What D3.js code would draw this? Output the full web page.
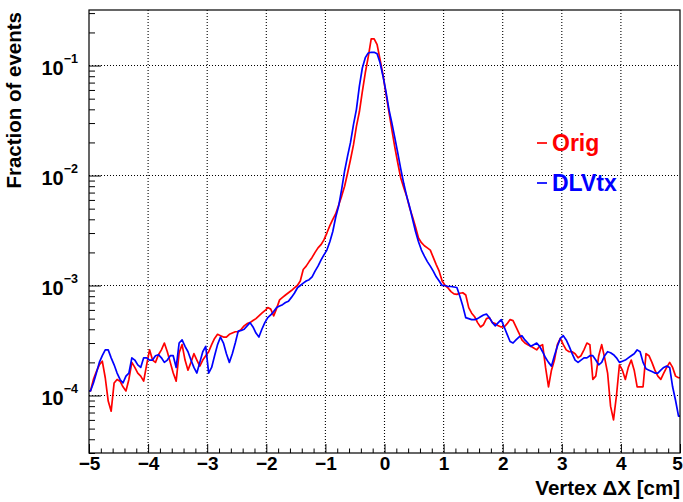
<!DOCTYPE html>
<html>
<head>
<meta charset="utf-8">
<script src="https://cdn.jsdelivr.net/npm/d3@7"></script>
<style>
  body { margin: 0; background: #fff; }
  svg text { font-family: "Liberation Sans", Arial, Helvetica, sans-serif; font-weight: bold; }
</style>
</head>
<body>
<div id="chart"></div>
<script>
// histogram binning: 200 bins on [-5, 5]
const xMin = -5, xMax = 5, nBins = 200;

// Orig (red), bin contents, 10 bins per row
const orig = [
  1.1e-4, 1.4e-4, 1.65e-4, 1.9e-4, 2.05e-4, 1.45e-4, 8.9e-5, 7.2e-5, 1.3e-4, 1.4e-4,
  1.35e-4, 1.2e-4, 1.1e-4, 1.4e-4, 2.0e-4, 1.8e-4, 1.6e-4, 1.5e-4, 1.35e-4, 1.9e-4,
  2.6e-4, 2.1e-4, 2.0e-4, 2.35e-4, 2.6e-4, 3.0e-4, 2.5e-4, 2.0e-4, 1.6e-4, 1.35e-4,
  2.45e-4, 2.9e-4, 2.1e-4, 1.7e-4, 2.0e-4, 2.4e-4, 2.1e-4, 1.85e-4, 2.1e-4, 2.3e-4,
  2.5e-4, 2.9e-4, 3.3e-4, 3.6e-4, 3.5e-4, 3.4e-4, 3.4e-4, 3.6e-4, 3.7e-4, 3.8e-4,
  3.8e-4, 4.0e-4, 4.3e-4, 4.5e-4, 4.6e-4, 4.8e-4, 5.0e-4, 5.3e-4, 5.6e-4, 5.9e-4,
  6.3e-4, 6.1e-4, 5.3e-4, 6.2e-4, 7.4e-4, 7.8e-4, 8.2e-4, 8.6e-4, 9.0e-4, 9.5e-4,
  1.0e-3, 1.1e-3, 1.4e-3, 1.5e-3, 1.65e-3, 1.8e-3, 2.0e-3, 2.2e-3, 2.35e-3, 2.6e-3,
  3.0e-3, 3.5e-3, 4.0e-3, 4.5e-3, 5.4e-3, 6.5e-3, 8.0e-3, 1.05e-2, 1.4e-2, 1.9e-2,
  2.8e-2, 3.8e-2, 5.8e-2, 8.6e-2, 0.12, 0.175, 0.175, 0.155, 0.113, 0.082,
  0.055, 0.038, 0.026, 0.018, 0.013, 9.5e-3, 7.8e-3, 6.5e-3, 5.1e-3, 4.2e-3,
  3.4e-3, 2.7e-3, 2.45e-3, 2.3e-3, 2.2e-3, 2.1e-3, 1.8e-3, 1.55e-3, 1.35e-3, 1.1e-3,
  1.0e-3, 9.5e-4, 8.8e-4, 8.4e-4, 8.3e-4, 8.5e-4, 8.6e-4, 8.2e-4, 6.3e-4, 5.6e-4,
  5.2e-4, 4.6e-4, 4.2e-4, 4.4e-4, 5.0e-4, 5.1e-4, 4.6e-4, 4.5e-4, 4.3e-4, 4.2e-4,
  4.2e-4, 4.5e-4, 4.9e-4, 4.8e-4, 4.2e-4, 3.7e-4, 3.2e-4, 3.0e-4, 2.9e-4, 2.8e-4,
  2.7e-4, 2.6e-4, 2.8e-4, 2.9e-4, 1.8e-4, 1.2e-4, 1.7e-4, 2.1e-4, 2.9e-4, 3.3e-4,
  2.9e-4, 2.6e-4, 2.5e-4, 2.5e-4, 2.4e-4, 2.2e-4, 2.3e-4, 2.6e-4, 3.0e-4, 2.9e-4,
  1.4e-4, 1.5e-4, 2.3e-4, 2.9e-4, 2.2e-4, 1.6e-4, 8e-5, 6e-5, 1.0e-4, 1.9e-4,
  1.7e-4, 1.4e-4, 1.8e-4, 2.1e-4, 1.7e-4, 1.2e-4, 1.2e-4, 1.2e-4, 2.4e-4, 2.3e-4,
  2.0e-4, 1.7e-4, 1.5e-4, 1.4e-4, 1.6e-4, 1.8e-4, 2.0e-4, 1.8e-4, 1.5e-4, 1.45e-4
];

// DLVtx (blue)
const dlvtx = [
  1.1e-4, 1.3e-4, 1.6e-4, 2.0e-4, 2.3e-4, 2.6e-4, 2.6e-4, 2.2e-4, 1.9e-4, 1.6e-4,
  1.4e-4, 1.3e-4, 1.5e-4, 1.6e-4, 2.2e-4, 2.1e-4, 1.9e-4, 1.8e-4, 2.2e-4, 2.2e-4,
  2.1e-4, 2.1e-4, 2.3e-4, 2.35e-4, 2.2e-4, 2.0e-4, 2.1e-4, 2.3e-4, 2.3e-4, 1.8e-4,
  3.0e-4, 3.2e-4, 2.8e-4, 2.5e-4, 2.1e-4, 1.8e-4, 1.6e-4, 2.0e-4, 2.5e-4, 2.8e-4,
  1.6e-4, 1.8e-4, 2.3e-4, 2.9e-4, 3.4e-4, 3.0e-4, 2.4e-4, 2.0e-4, 2.4e-4, 3.0e-4,
  3.85e-4, 3.9e-4, 4.0e-4, 4.3e-4, 4.6e-4, 4.2e-4, 3.7e-4, 3.4e-4, 4.0e-4, 4.6e-4,
  5.1e-4, 5.4e-4, 5.8e-4, 6.3e-4, 6.5e-4, 6.7e-4, 7.0e-4, 7.2e-4, 7.8e-4, 8.5e-4,
  9.5e-4, 1.0e-3, 1.05e-3, 1.1e-3, 1.13e-3, 1.2e-3, 1.35e-3, 1.5e-3, 1.7e-3, 1.9e-3,
  2.1e-3, 2.5e-3, 3.1e-3, 4.2e-3, 5.3e-3, 7.5e-3, 1.1e-2, 1.5e-2, 2.0e-2, 2.9e-2,
  4.0e-2, 6.5e-2, 9.5e-2, 0.118, 0.13, 0.132, 0.132, 0.128, 0.106, 0.08,
  0.058, 0.04, 0.03, 0.022, 0.016, 0.0115, 0.0085, 0.0065, 0.0052, 0.004,
  3.1e-3, 2.5e-3, 2.1e-3, 1.85e-3, 1.65e-3, 1.5e-3, 1.35e-3, 1.2e-3, 1.1e-3, 1.0e-3,
  1.0e-3, 9.8e-4, 9.8e-4, 9.7e-4, 9.6e-4, 8.0e-4, 6.5e-4, 5.1e-4, 5.0e-4, 4.9e-4,
  4.9e-4, 5.0e-4, 5.2e-4, 5.4e-4, 5.5e-4, 5.1e-4, 4.6e-4, 4.3e-4, 4.6e-4, 4.9e-4,
  4.2e-4, 3.6e-4, 3.1e-4, 3.0e-4, 3.2e-4, 3.4e-4, 3.5e-4, 3.2e-4, 3.0e-4, 2.8e-4,
  2.9e-4, 3.0e-4, 2.8e-4, 2.5e-4, 2.2e-4, 2.0e-4, 1.85e-4, 2.3e-4, 2.8e-4, 3.3e-4,
  3.5e-4, 3.2e-4, 2.8e-4, 2.4e-4, 2.1e-4, 2.0e-4, 2.1e-4, 2.2e-4, 2.2e-4, 2.3e-4,
  2.3e-4, 2.1e-4, 1.9e-4, 2.0e-4, 2.3e-4, 2.5e-4, 2.45e-4, 2.35e-4, 2.2e-4, 2.0e-4,
  2.05e-4, 2.1e-4, 2.2e-4, 2.3e-4, 2.4e-4, 2.6e-4, 2.5e-4, 2.0e-4, 1.75e-4, 1.7e-4,
  1.65e-4, 1.6e-4, 1.6e-4, 1.7e-4, 1.8e-4, 1.85e-4, 1.8e-4, 1.2e-4, 9e-5, 6.5e-5
];

const xTicks = [-5, -4, -3, -2, -1, 0, 1, 2, 3, 4, 5];
const yDecades = [-4, -3, -2, -1];
const seriesNames = ["Orig", "DLVtx"];
const seriesColors = ["#ff0000", "#0000ff"];

const W = 683, H = 502;
const m = { left: 89, right: 3, top: 10, bottom: 49 };
const fx0 = m.left, fx1 = W - m.right, fy0 = m.top, fy1 = H - m.bottom;

const svg = d3.select("#chart").append("svg")
  .attr("width", W).attr("height", H);

const x = d3.scaleLinear().domain([xMin, xMax]).range([fx0, fx1]);
const y = d3.scaleLog().domain([3.0e-5, 0.32]).range([fy1, fy0]);

// grid
const grid = svg.append("g")
  .attr("stroke", "#000").attr("stroke-width", 1.1)
  .attr("stroke-dasharray", "1,2");
grid.selectAll("line.gx")
  .data(xTicks.filter(d => d > xMin && d < xMax))
  .enter().append("line")
  .attr("x1", d => x(d)).attr("x2", d => x(d))
  .attr("y1", fy0).attr("y2", fy1);
grid.selectAll("line.gy")
  .data(yDecades)
  .enter().append("line")
  .attr("x1", fx0).attr("x2", fx1)
  .attr("y1", d => y(Math.pow(10, d))).attr("y2", d => y(Math.pow(10, d)));

// histograms
svg.append("clipPath").attr("id", "frame")
  .append("rect").attr("x", fx0).attr("y", fy0)
  .attr("width", fx1 - fx0).attr("height", fy1 - fy0);

const bw = (xMax - xMin) / nBins;
// polyline through bin centres, pinned to the frame edges
function histPoints(vals) {
  let pts = vals.map((v, i) => [xMin + (i + 0.5) * bw, v]);
  pts.unshift([xMin, vals[0]]);
  pts.push([xMax, vals[vals.length - 1]]);
  return pts;
}
const line = d3.line()
  .x(d => x(d[0]))
  .y(d => y(d[1]));

[orig, dlvtx].forEach((vals, k) => {
  svg.append("path")
    .attr("clip-path", "url(#frame)")
    .attr("d", line(histPoints(vals)))
    .attr("fill", "none")
    .attr("stroke", seriesColors[k])
    .attr("stroke-width", 1.7)
    .attr("stroke-linejoin", "round");
});

// x axis, ticks drawn inward
const minus = s => String(s).replace("-", "\u2212");
const xAxis = svg.append("g")
  .attr("transform", "translate(0," + fy1 + ")")
  .call(d3.axisBottom(x).tickValues(xTicks).tickSizeInner(-9).tickSizeOuter(0)
    .tickPadding(4).tickFormat(minus));
xAxis.select(".domain").remove();
xAxis.selectAll("line").attr("stroke", "#000");
xAxis.selectAll("text").attr("font-size", 19).attr("fill", "#000");
xAxis.selectAll(".tick:last-of-type text").attr("dx", "-3");

const xMinor = d3.range(-50, 51, 2).map(d => d / 10).filter(d => !xTicks.includes(d));
svg.append("g")
  .attr("transform", "translate(0," + fy1 + ")")
  .call(d3.axisBottom(x).tickValues(xMinor).tickSizeInner(-4.5).tickSizeOuter(0).tickFormat(""))
  .call(g => g.select(".domain").remove());

// y axis, log
const yAxis = svg.append("g")
  .attr("transform", "translate(" + fx0 + ",0)")
  .call(d3.axisLeft(y).tickValues(yDecades.map(d => Math.pow(10, d)))
    .tickSizeInner(-12).tickSizeOuter(0).tickPadding(11).tickFormat(""));
yAxis.select(".domain").remove();
yAxis.selectAll(".tick text").each(function(d) {
  const t = d3.select(this).attr("font-size", 20).attr("fill", "#000").attr("dy", "0.45em");
  t.append("tspan").text("10");
  t.append("tspan").attr("font-size", 12.5).attr("dy", "-0.95em")
    .text("\u2212" + Math.round(-Math.log10(d)));
});

let yMinor = [];
for (let e = -5; e <= -1; e++) {
  for (let k = 2; k <= 9; k++) {
    const v = k * Math.pow(10, e);
    if (v > 3.0e-5 && v < 0.32) yMinor.push(v);
  }
}
svg.append("g")
  .attr("transform", "translate(" + fx0 + ",0)")
  .call(d3.axisLeft(y).tickValues(yMinor).tickSizeInner(-6).tickSizeOuter(0).tickFormat(""))
  .call(g => g.select(".domain").remove());

// frame
svg.append("rect")
  .attr("x", fx0).attr("y", fy0)
  .attr("width", fx1 - fx0).attr("height", fy1 - fy0)
  .attr("fill", "none").attr("stroke", "#000").attr("stroke-width", 1.2);

// axis titles
svg.append("text")
  .attr("x", fx1).attr("y", 495)
  .attr("text-anchor", "end").attr("font-size", 20.5)
  .text("Vertex \u0394X [cm]");

svg.append("text")
  .attr("transform", "translate(21," + (fy0 + 2) + ") rotate(-90)")
  .attr("text-anchor", "end").attr("font-size", 20.5)
  .text("Fraction of events");

// legend
const legend = svg.append("g");
seriesNames.forEach((name, k) => {
  const ly = 143 + k * 40;
  legend.append("line")
    .attr("x1", 537).attr("x2", 547)
    .attr("y1", ly).attr("y2", ly)
    .attr("stroke", seriesColors[k]).attr("stroke-width", 1.7);
  legend.append("text")
    .attr("x", 552).attr("y", ly + 8)
    .attr("font-size", 23).attr("fill", seriesColors[k])
    .text(name);
});
</script>
</body>
</html>
